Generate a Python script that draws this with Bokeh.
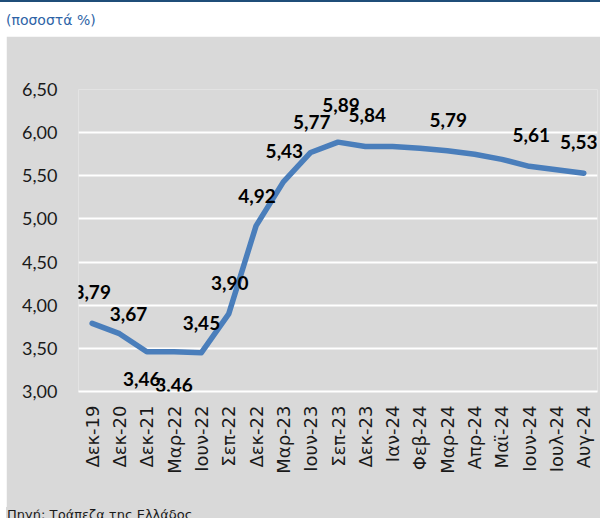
import math
from bokeh.plotting import figure
from bokeh.models import (ColumnDataSource, LabelSet, Div,
                          CustomJSTickFormatter, FixedTicker, Range1d)
from bokeh.core.properties import value
from bokeh.embed import file_html
from bokeh.resources import INLINE

# ---- data ----
categories = ["Δεκ-19", "Δεκ-20", "Δεκ-21", "Μαρ-22", "Ιουν-22", "Σεπ-22",
              "Δεκ-22", "Μαρ-23", "Ιουν-23", "Σεπ-23", "Δεκ-23", "Ιαν-24",
              "Φεβ-24", "Μαρ-24", "Απρ-24", "Μαϊ-24", "Ιουν-24", "Ιουλ-24",
              "Αυγ-24"]
values = [3.79, 3.67, 3.46, 3.46, 3.45, 3.90, 4.92, 5.43, 5.77, 5.89, 5.84,
          5.84, 5.82, 5.79, 5.75, 5.69, 5.61, 5.57, 5.53]
labelled = ["Δεκ-19", "Δεκ-20", "Δεκ-21", "Μαρ-22", "Ιουν-22", "Σεπ-22",
            "Δεκ-22", "Μαρ-23", "Ιουν-23", "Σεπ-23", "Δεκ-23", "Μαρ-24",
            "Ιουν-24", "Αυγ-24"]
y_ticks = [3.0, 3.5, 4.0, 4.5, 5.0, 5.5, 6.0, 6.5]
title_text = "(ποσοστά %)"
source_text = "Πηγή: Τράπεζα της Ελλάδος"

# label placement (screen px offsets)
label_dx = [0, 9, -5, 0, 0, 1, 1, 1, 1, 3, 2, 1, 2, -5]
label_dy = [31, 20, -27, -33, 30, 31, 30, 31, 30, 37, 31, 31, 31, 31]

# chart panel: grey area starting at page (6, 36)
PW, PH = 594, 482
FL, FR, FT, FB = 72, 3, 53, 127

p = figure(x_range=categories, y_range=Range1d(3.0, 6.5),
           width=PW, height=PH, output_backend="svg", toolbar_location=None,
           min_border_left=FL, min_border_right=FR, min_border_top=FT,
           min_border_bottom=FB,
           background_fill_color="#d9d9d9", border_fill_color="#d9d9d9",
           outline_line_color=None,
           styles={"position": "absolute", "left": "6px", "top": "36px"})

# axes
p.yaxis.ticker = FixedTicker(ticks=y_ticks)
p.yaxis.formatter = CustomJSTickFormatter(code="return tick.toFixed(2).replace('.', ',');")
for ax in (p.xaxis, p.yaxis):
    ax.major_tick_line_color = None
    ax.minor_tick_line_color = None
    ax.major_tick_in = 0
    ax.major_tick_out = 0
    ax.major_label_text_color = "#1a1a1a"
p.yaxis.axis_line_color = None
p.yaxis.major_label_text_font = "Lato"
p.yaxis.major_label_text_font_size = "18px"
p.yaxis.major_label_standoff = 21
p.xaxis.axis_line_color = "white"
p.xaxis.axis_line_width = 2
p.xaxis.major_label_orientation = math.pi / 2
p.xaxis.major_label_text_font = "DejaVu Sans"
p.xaxis.major_label_text_font_size = "18px"
p.xaxis.major_label_standoff = 14

p.xgrid.grid_line_color = None
p.ygrid.grid_line_color = "white"
p.ygrid.grid_line_width = 2

p.line(x=categories, y=values, line_color="#4a7ebb", line_width=5.5,
       line_join="round", line_cap="round")

lab_vals = [values[categories.index(c)] for c in labelled]
lsrc = ColumnDataSource(dict(x=labelled, y=lab_vals,
                             t=[f"{v:.2f}".replace(".", ",") for v in lab_vals],
                             dx=label_dx, dy=label_dy))
p.add_layout(LabelSet(x="x", y="y", text="t", source=lsrc,
                      x_offset="dx", y_offset="dy",
                      text_align="center", text_baseline="middle",
                      text_font=value("Lato"), text_font_style="bold",
                      text_font_size="19px", text_color="black"))

title_div = Div(
    text=('<div style="font-family:\'DejaVu Sans\'; font-size:14px; line-height:16px; '
          'color:#2e63a6; padding:10px 0 0 6px; white-space:nowrap;">'
          + title_text + '</div>'),
    width=600, height=34,
    styles={"position": "absolute", "left": "0px", "top": "0px",
            "border-top": "2px solid #1f4e79", "background-color": "white",
            "margin": "0px"})

footer_div = Div(
    text=('<div style="font-family:\'DejaVu Sans\'; font-size:13px; line-height:15px; '
          'color:#1a1a1a; padding:0 0 0 1px; white-space:nowrap; '
          'background-color:#d9d9d9;">'
          + source_text + '</div>'),
    width=300, height=11,
    styles={"position": "absolute", "left": "6px", "top": "507px",
            "overflow": "hidden", "margin": "0px",
            "background-color": "#d9d9d9"})

open("out.html", "w").write(file_html([title_div, p, footer_div], INLINE))
